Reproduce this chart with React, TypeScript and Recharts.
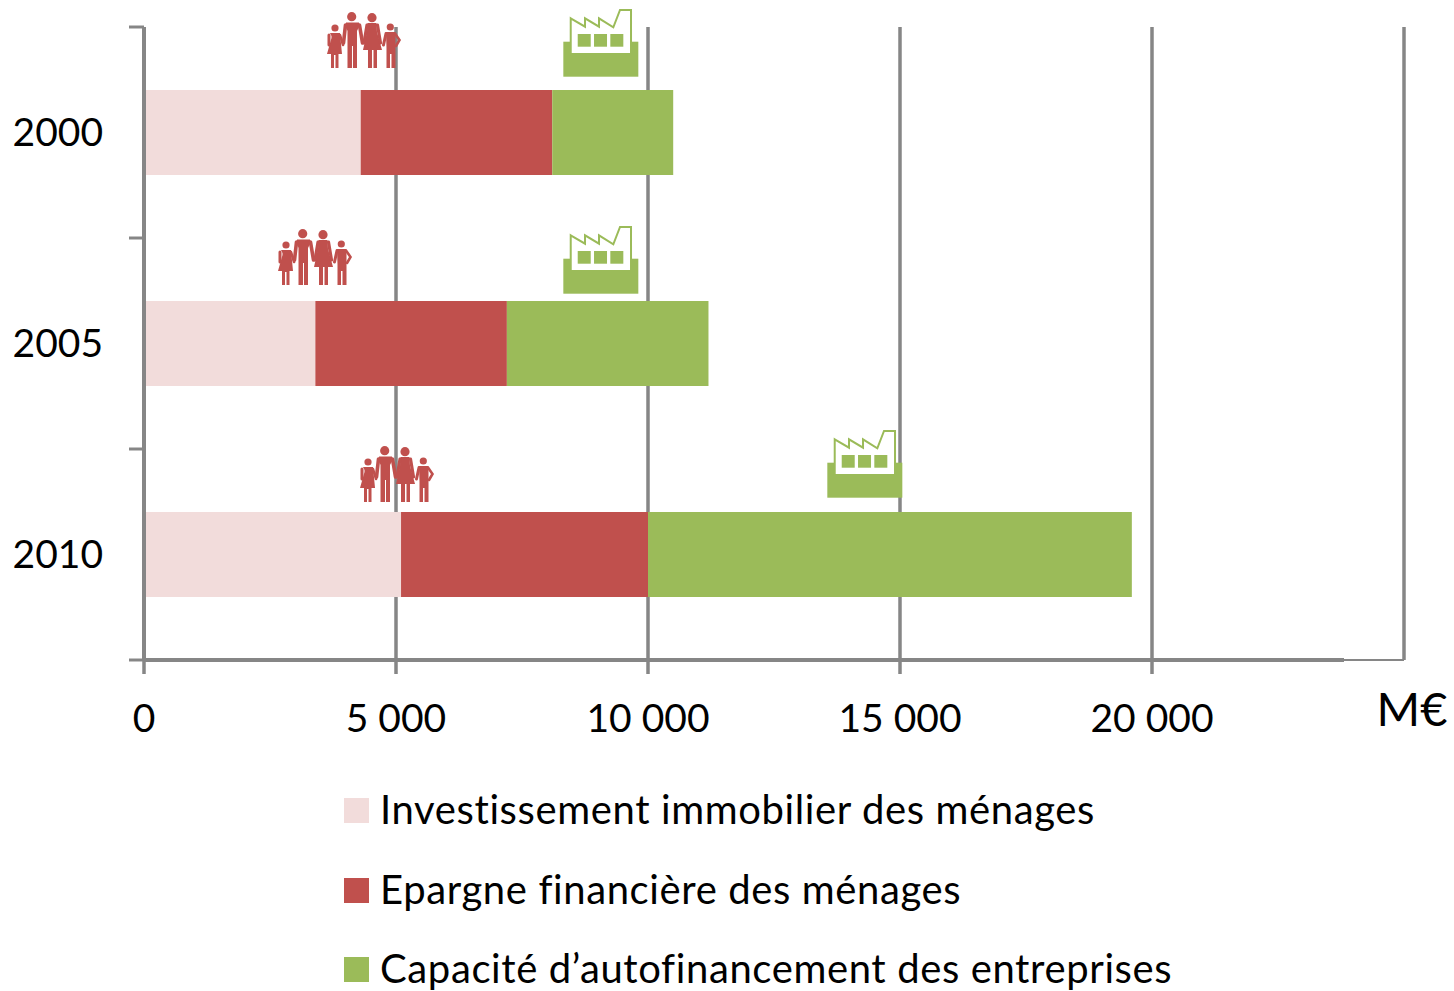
import { BarChart, Bar, XAxis, YAxis, CartesianGrid, Legend, ReferenceDot } from "recharts";

const years = ["2000", "2005", "2010"];
const immobilier = [4300, 3400, 5100];
const epargne = [3800, 3800, 4900];
const autofinancement = [2400, 4000, 9600];
const xTicks = [0, 5000, 10000, 15000, 20000, 25000];
const peopleAt = [4355, 3383, 5010];
const factoryAt = [9058, 9058, 14296];
const iconShift = [0, 6, 12];
const factoryShift = [0, 6, -1];

const names = {
  immobilier: "Investissement immobilier des ménages",
  epargne: "Epargne financière des ménages",
  autofinancement: "Capacité d’autofinancement des entreprises",
};

const data = years.map((year, i) => ({
  year,
  immobilier: immobilier[i],
  epargne: epargne[i],
  autofinancement: autofinancement[i],
}));

const PINK = "#f2dcdb";
const RED = "#c0504d";
const GREEN = "#9bbb59";
const AXIS = "#868686";
const FONT = "Lato, sans-serif";
const BAND = 211;

function fmtTick(n: number) {
  if (n >= 25000) return "M€";
  if (n >= 1000) return `${n / 1000} 000`;
  return String(n);
}

function XTick({ x, y, payload }: any) {
  const last = payload.value >= 25000;
  const top = y - 8; // recharts hands over the position after tick size + margin
  return (
    <g>
      {payload.value === 0 && (
        <line x1={x} x2={x + 1200} y1={top} y2={top} stroke={AXIS} strokeWidth={4} />
      )}
      {!last && <line x1={x} x2={x} y1={top} y2={top + 14} stroke={AXIS} strokeWidth={3.5} />}
      <text
        x={last ? x + 8 : x}
        y={top + (last ? 66 : 72)}
        textAnchor="middle"
        fontFamily={FONT}
        fontSize={last ? 47 : 39}
        fill="#000"
      >
        {fmtTick(payload.value)}
      </text>
    </g>
  );
}

function YTick({ x, y, payload, index }: any) {
  const right = x + 8;
  return (
    <g>
      <line x1={right - 15} x2={right} y1={y - BAND / 2} y2={y - BAND / 2} stroke={AXIS} strokeWidth={3} />
      {index === years.length - 1 && (
        <line x1={right - 15} x2={right} y1={y + BAND / 2} y2={y + BAND / 2} stroke={AXIS} strokeWidth={3} />
      )}
      <text x={103} y={y + 13} textAnchor="end" fontFamily={FONT} fontSize={39} fill="#000">
        {payload.value}
      </text>
    </g>
  );
}

function People({ cx, cy, dy = 0 }: any) {
  return (
    <g transform={`translate(${cx - 36.5},${cy - 120.5 + dy})`} fill={RED} stroke="none">
      {/* girl */}
      <circle cx={8} cy={16} r={3.6} />
      <path d="M3 21 H13 L15 42 H11.5 V56 H8.5 V43 H7 V56 H4 V42 H0 L4.5 26 V24 Z" />
      <path d="M2 23 V33" stroke={RED} strokeWidth={3} strokeLinecap="round" />
      <path d="M13 23 L16 33" stroke={RED} strokeWidth={2.6} strokeLinecap="round" />
      {/* man */}
      <circle cx={24.7} cy={4.7} r={4.6} />
      <path d="M19 10.5 H32 V15 L30 19 V56 H26 V34 H25 V56 H20.5 V19 L19 15 Z" />
      <path d="M18.5 13 L16.5 31 M32.5 13 L35.5 31" fill="none" stroke={RED} strokeWidth={3.6} strokeLinecap="round" />
      {/* woman */}
      <circle cx={45} cy={5.7} r={4.6} />
      <path d="M40.5 11 H49.5 L50 20 L55 38 H50 V56 H46.5 V38 H45 V56 H41 V38 H36 L40 20 Z" />
      <path d="M40 13 L37 31 M50.5 13 L53.5 31" fill="none" stroke={RED} strokeWidth={3.2} strokeLinecap="round" />
      {/* boy */}
      <circle cx={63.3} cy={15} r={3.6} />
      <path d="M59 20 H68.5 V56 H64.5 V42 H63 V56 H59.5 V36 Z" />
      <path d="M59 21.5 L56.5 33" fill="none" stroke={RED} strokeWidth={3} strokeLinecap="round" />
      <path d="M68 21.5 L72.5 28 L69 34" fill="none" stroke={RED} strokeWidth={2.6} strokeLinecap="round" />
    </g>
  );
}

function Factory({ cx, cy, dy = 0 }: any) {
  return (
    <g transform={`translate(${cx - 37.5},${cy - 123.5 + dy})`}>
      <rect x={0.3} y={32.7} width={75} height={35} fill={GREEN} />
      <path
        d="M7.7 9.3 L22 17.7 V9.3 L36 17.7 V9.3 L50.3 18.3 L57 1 H68 V45 H7.7 Z"
        fill="#fff"
        stroke={GREEN}
        strokeWidth={2}
      />
      <rect x={14.7} y={25} width={13} height={12.7} fill={GREEN} />
      <rect x={31} y={25} width={13} height={12.7} fill={GREEN} />
      <rect x={47.3} y={25} width={13} height={12.7} fill={GREEN} />
    </g>
  );
}

function LegendBox({ payload }: any) {
  return (
    <div style={{ fontFamily: FONT, fontSize: 40, letterSpacing: 0.62, color: "#000", height: 221, position: "relative" }}>
      {(payload || []).map((item: any, i: number) => (
        <div
          key={item.value}
          style={{ position: "absolute", left: 0, top: 15 + i * 79.5, whiteSpace: "nowrap", lineHeight: "48px" }}
        >
          <span
            style={{
              display: "inline-block",
              width: 25,
              height: 25,
              background: item.color,
              marginRight: 11,
              verticalAlign: 1,
            }}
          />
          {item.value}
        </div>
      ))}
    </div>
  );
}

export default function App() {
  return (
    <div style={{ position: "absolute", left: 0, top: 0, width: 1454, height: 991, background: "#fff", overflow: "hidden" }}>
      <BarChart
        width={1454}
        height={991}
        data={data}
        layout="vertical"
        barCategoryGap={63}
        margin={{ top: 27, right: 50, left: 0, bottom: 0 }}
      >
        <CartesianGrid horizontal={false} vertical stroke={AXIS} strokeWidth={3.5} />
        <XAxis
          type="number"
          domain={[0, 25000]}
          ticks={xTicks}
          interval={0}
          height={110}
          axisLine={{ stroke: AXIS, strokeWidth: 2 }}
          tickLine={false}
          tick={<XTick />}
        />
        <YAxis
          type="category"
          dataKey="year"
          width={144}
          axisLine={{ stroke: AXIS, strokeWidth: 4 }}
          tickLine={false}
          tick={<YTick />}
          interval={0}
        />
        <Legend
          verticalAlign="bottom"
          itemSorter={null}
          content={<LegendBox />}
          wrapperStyle={{ left: 344, width: 1100, height: 221, bottom: 0 }}
        />
        <Bar dataKey="immobilier" name={names.immobilier} stackId="a" fill={PINK} isAnimationActive={false} />
        <Bar dataKey="epargne" name={names.epargne} stackId="a" fill={RED} isAnimationActive={false} />
        <Bar dataKey="autofinancement" name={names.autofinancement} stackId="a" fill={GREEN} isAnimationActive={false} />
        {years.map((year, i) => (
          <ReferenceDot
            key={`p${year}`}
            x={peopleAt[i]}
            y={year}
            ifOverflow="visible"
            shape={(props: any) => <People {...props} dy={iconShift[i]} />}
          />
        ))}
        {years.map((year, i) => (
          <ReferenceDot
            key={`f${year}`}
            x={factoryAt[i]}
            y={year}
            ifOverflow="visible"
            shape={(props: any) => <Factory {...props} dy={factoryShift[i]} />}
          />
        ))}
      </BarChart>
    </div>
  );
}
